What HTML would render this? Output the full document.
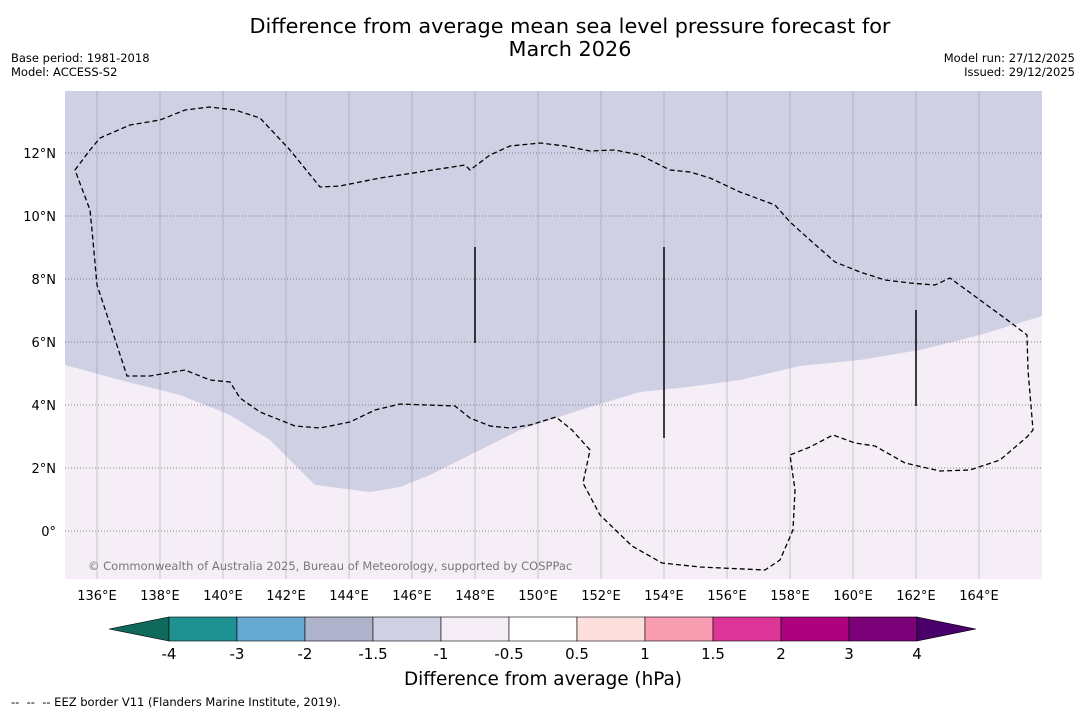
<!DOCTYPE html>
<html><head><meta charset="utf-8">
<style>
body{margin:0;background:#fff;font-family:"DejaVu Sans","Liberation Sans",sans-serif;}
#wrap{position:relative;width:1085px;height:713px;overflow:hidden;background:#fff;}
.t{position:absolute;white-space:nowrap;color:#000;}
</style></head><body>
<div id="wrap">
<div class="t" style="left:0;width:1140px;top:15px;text-align:center;font-size:20.8px;line-height:23px;">Difference from average mean sea level pressure forecast for<br>March 2026</div>
<div class="t" style="left:11px;top:51px;font-size:11.5px;line-height:14px;">Base period: 1981-2018<br>Model: ACCESS-S2</div>
<div class="t" style="right:10px;top:51px;font-size:11.5px;line-height:14px;text-align:right;">Model run: 27/12/2025<br>Issued: 29/12/2025</div>
<div class="t" style="left:11px;top:695px;font-size:11.5px;">--&nbsp; --&nbsp; -- EEZ border V11 (Flanders Marine Institute, 2019).</div>
<svg id="svg" width="1085" height="713" style="position:absolute;left:0;top:0"></svg>
</div>
<script>
const lonTicks=[136,138,140,142,144,146,148,150,152,154,156,158,160,162,164];
const latTicks=[0,2,4,6,8,10,12];
const cbBounds=["-4","-3","-2","-1.5","-1","-0.5","0.5","1","1.5","2","3","4"];
const cbColors=["#1f9193","#66a9d1","#aeb2cb","#d0d0e4","#f5eef6","#ffffff","#fde0dd","#f99db3","#dd3497","#ae017e","#7a0177"];
const NS="http://www.w3.org/2000/svg";
const svg=document.getElementById('svg');
const L=65,R=1042,T=91,B=579;
const xs=lon=>65.5+(lon-135)*31.5;
const ys=lat=>531-lat*31.5;
function mk(tag,attrs,parent){const e=document.createElementNS(NS,tag);for(const k in attrs)e.setAttribute(k,attrs[k]);(parent||svg).appendChild(e);return e;}
const bg=mk('rect',{x:L,y:T,width:R-L,height:B-T,fill:'#f5eef6'});


const shade="M65,91 L1042,91 L1042,316 L980,335 L920,350 L860,360 L800,366 L740,380 L680,388 L640,392 L580,410 L520,430 L470,455 L430,475 L400,487 L370,492 L315,485 L300,470 L270,440 L230,415 L180,395 L120,380 L65,365 Z";
const sh=mk('path',{d:shade,fill:'#d0d0e4'});


lonTicks.forEach(l=>{const x=xs(l);
 const g=mk('line',{x1:x,x2:x,y1:T,y2:B,stroke:'#777',"stroke-width":0.5,"stroke-opacity":0.7});
 
 
 const t=mk('text',{x:x,y:600,"font-size":13,"text-anchor":"middle","font-family":"DejaVu Sans, Liberation Sans, sans-serif"});
 t.textContent=l+'°E';
 
 
});
latTicks.forEach(l=>{const y=ys(l);
 const g=mk('line',{x1:L,x2:R,y1:y,y2:y,stroke:'#666',"stroke-width":0.8,"stroke-dasharray":"1,2"});
 
 
 const t=mk('text',{x:56,y:y+5,"font-size":13,"text-anchor":"end","font-family":"DejaVu Sans, Liberation Sans, sans-serif"});
 t.textContent=l===0?'0°':l+'°N';
 
 
});
const eez="M75,170 L90,150 L100,138 L130,125 L160,120 L185,110 L210,107 L235,110 L260,118 L290,150 L320,187 L340,186 L380,178 L420,172 L465,165 L470,170 L490,155 L510,146 L540,143 L565,146 L590,151 L615,150 L640,155 L670,170 L690,172 L710,178 L740,192 L775,205 L790,222 L810,240 L835,262 L860,272 L885,280 L910,283 L935,285 L950,278 L980,300 L1010,322 L1027,335 L1028,370 L1033,430 L1027,437 L1000,460 L970,470 L940,471 L905,463 L875,446 L855,443 L833,435 L810,447 L790,455 L795,490 L793,530 L780,560 L765,570 L700,567 L662,563 L632,546 L600,515 L583,483 L590,450 L572,430 L556,417 L530,425 L510,428 L490,426 L470,418 L455,406 L400,404 L375,410 L350,422 L320,428 L295,426 L260,412 L240,398 L230,382 L210,380 L185,370 L150,376 L127,376 L112,330 L97,285 L92,230 L90,210 Z";
const ez=mk('path',{d:eez,fill:'none',stroke:'#000',"stroke-width":1.3,"stroke-dasharray":"5,3"});


[[475,247,343],[664,247,438],[916,310,406]].forEach(v=>{
 const l=mk('line',{x1:v[0],x2:v[0],y1:v[1],y2:v[2],stroke:'#000',"stroke-width":1.5});
 
 
});
const cp=mk('text',{x:88,y:570,"font-size":11.5,fill:'#777',"font-family":"DejaVu Sans, Liberation Sans, sans-serif"});
cp.textContent='© Commonwealth of Australia 2025, Bureau of Meteorology, supported by COSPPac';


const cx0=169,cw=68,cy=617,ch=24;
const lt=mk('polygon',{points:`${cx0},${cy} ${cx0},${cy+ch} 109,${cy+ch/2}`,fill:'#0f6a5c',stroke:'#000',"stroke-width":0.6});


cbColors.forEach((c,i)=>{
 const r=mk('rect',{x:cx0+i*cw,y:cy,width:cw,height:ch,fill:c,stroke:'#000',"stroke-width":0.6});
 
 
});
const xe=cx0+cbColors.length*cw;
const rt=mk('polygon',{points:`${xe},${cy} ${xe},${cy+ch} 976,${cy+ch/2}`,fill:'#49006a',stroke:'#000',"stroke-width":0.6});


cbBounds.forEach((b,i)=>{
 const t=mk('text',{x:cx0+i*cw,y:659,"font-size":15,"text-anchor":"middle","font-family":"DejaVu Sans, Liberation Sans, sans-serif"});
 t.textContent=b;
 
 
});
const ct=mk('text',{x:543,y:685,"font-size":18.4,"text-anchor":"middle","font-family":"DejaVu Sans, Liberation Sans, sans-serif"});
ct.textContent='Difference from average (hPa)';


</script>
</body></html>
